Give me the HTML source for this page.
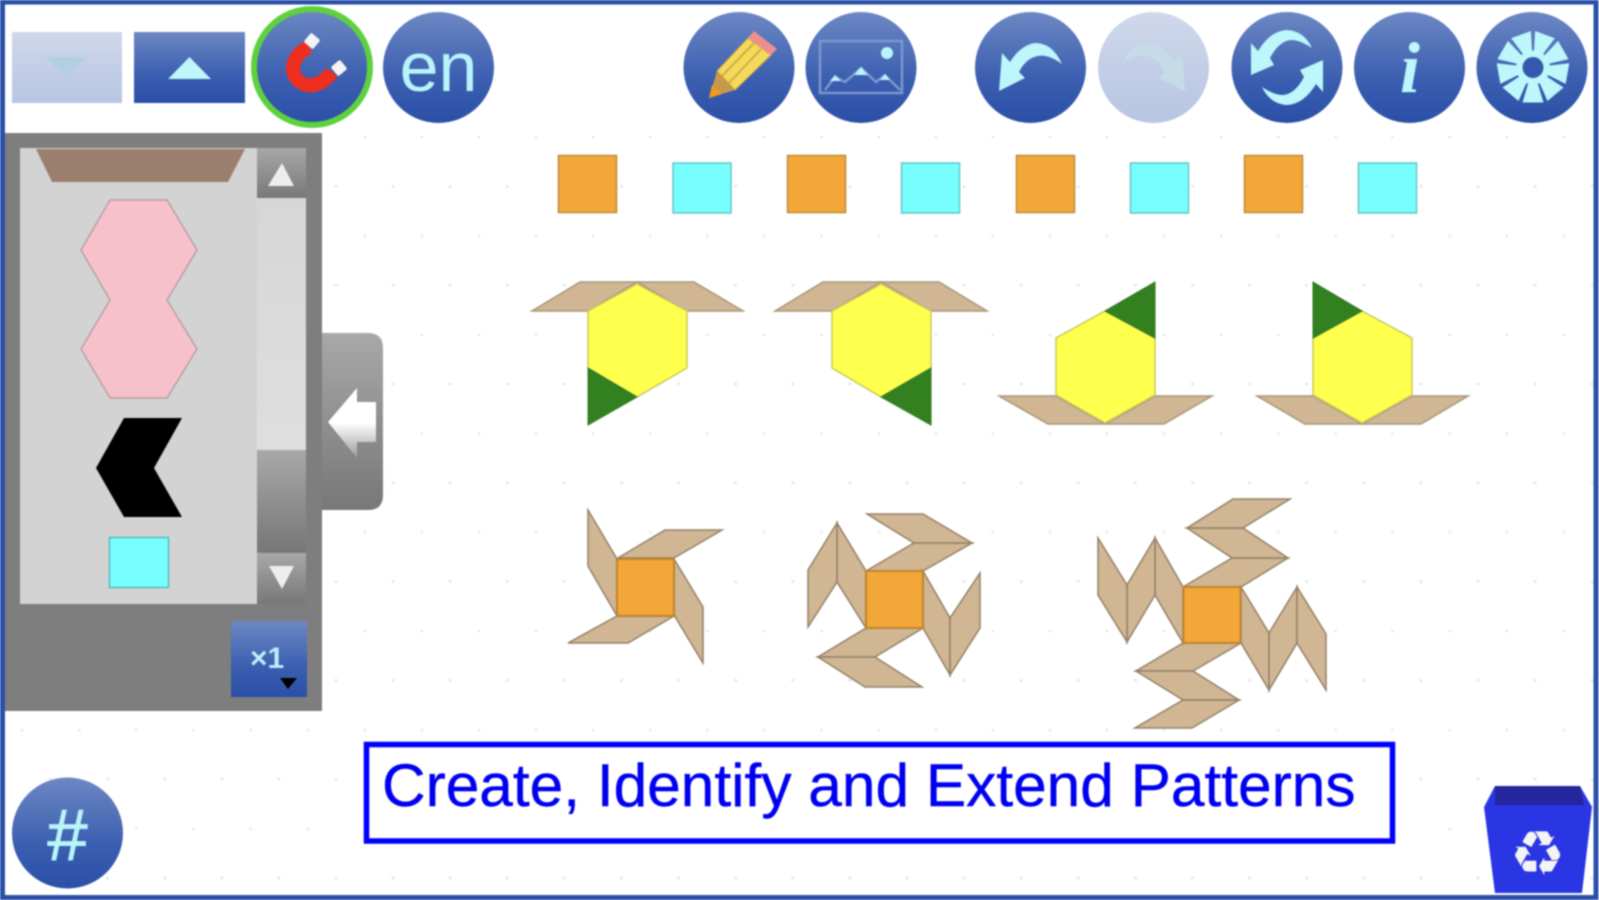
<!DOCTYPE html>
<html><head><meta charset="utf-8"><title>Create, Identify and Extend Patterns</title>
<style>html,body{margin:0;padding:0;background:#fff;width:1599px;height:900px;overflow:hidden}svg{display:block;filter:blur(.8px)}</style></head>
<body>
<svg xmlns="http://www.w3.org/2000/svg" width="1599" height="900" viewBox="0 0 1599 900">
<defs>
<linearGradient id="b" x1="0" y1="0" x2="0" y2="1"><stop offset="0" stop-color="#6c87c3"/><stop offset=".6" stop-color="#3b5eb0"/><stop offset="1" stop-color="#2a4fa6"/></linearGradient>
<linearGradient id="d" x1="0" y1="0" x2="0" y2="1"><stop offset="0" stop-color="#cfd8eb"/><stop offset="1" stop-color="#b6c5e2"/></linearGradient>
<linearGradient id="g" x1="0" y1="0" x2="0" y2="1"><stop offset="0" stop-color="#a8a8a8"/><stop offset="1" stop-color="#777"/></linearGradient>
<linearGradient id="t" x1="0" y1="0" x2="0" y2="1"><stop offset="0" stop-color="#d6d6d6"/><stop offset="1" stop-color="#dedede"/></linearGradient>
<linearGradient id="w" x1="0" y1="0" x2="0" y2="1"><stop offset="0" stop-color="#fff"/><stop offset=".5" stop-color="#fff"/><stop offset="1" stop-color="#999"/></linearGradient>
<pattern id="dots" patternUnits="userSpaceOnUse" x="21" y="136" width="57.1" height="98.8">
<circle cx="1" cy="1" r="1.5" fill="#e6e6e6"/><circle cx="29.5" cy="50.4" r="1.5" fill="#e6e6e6"/></pattern>
</defs>
<rect width="1599" height="900" fill="#fff"/>
<rect x="5" y="130" width="1588" height="765" fill="url(#dots)"/>
<!-- frame -->
<rect x="2.5" y="2" width="1593.5" height="895.5" fill="none" stroke="#2a50a8" stroke-width="5"/>

<!-- top left buttons -->
<rect x="12" y="32" width="110" height="71" fill="url(#d)"/><polygon points="45,57 87,57 67,78" fill="#b4cfe2"/>
<rect x="134" y="32" width="111" height="71" fill="url(#b)"/><polygon points="168,79 211,79 189.5,57" fill="#bdf6fb"/>
<circle cx="312" cy="67" r="58" fill="url(#b)" stroke="#5ed13f" stroke-width="6"/>
<path d="M309,47 C293,55 289,70 297,79 C306,90 322,86 332,72" fill="none" stroke="#ee2e1e" stroke-width="14"/>
<rect x="306" y="35" width="12" height="12" rx="2" fill="#f4f4f4" transform="rotate(40 312 41)"/>
<rect x="333" y="62" width="12" height="12" rx="2" fill="#f4f4f4" transform="rotate(50 339 68)"/>
<circle cx="438.5" cy="67.5" r="55.5" fill="url(#b)"/>
<text x="438.5" y="91" text-anchor="middle" font-family="Liberation Sans, sans-serif" font-size="70" fill="#b8f5fb">en</text>

<!-- pencil -->
<circle cx="739" cy="67.5" r="55.5" fill="url(#b)"/>
<polygon points="748,38 771,55 735,90 717,71" fill="#f5d95a" stroke="#c9a83e" stroke-width="1"/>
<line x1="754" y1="43" x2="722" y2="76" stroke="#cfae45" stroke-width="2"/><line x1="761" y1="49" x2="729" y2="83" stroke="#cfae45" stroke-width="2"/>
<polygon points="754,31 777,49 771,55 748,38" fill="#ee8f8f"/>
<polygon points="717,71 735,90 709,98" fill="#c49a4a"/>
<polygon points="712,85 722,94 709,98" fill="#f39a1c"/>

<!-- image -->
<circle cx="861" cy="67.5" r="55.5" fill="url(#b)"/>
<rect x="820" y="41" width="82" height="52" fill="none" stroke="#7d96cf" stroke-width="2.5"/>
<circle cx="887" cy="53" r="6" fill="#b8f5fb"/>
<polyline points="825,90 835,77 845,82 861,68 876,82 885,75 900,90" fill="none" stroke="#7d96cf" stroke-width="2.5"/>
<polygon points="830,81 835,75 841,81" fill="#b8f5fb"/><polygon points="854,75 861,67 868,75" fill="#b8f5fb"/><polygon points="880,80 885,74 890,80" fill="#b8f5fb"/>

<!-- undo -->
<circle cx="1030.5" cy="67.5" r="55.5" fill="url(#b)"/>
<path d="M1002,53 L1010,62 Q1020,46 1034,43 Q1052,42 1062,64 Q1048,54 1038,56 Q1026,58 1019,72 L1025,78 L999,91 Z" fill="#bdf6fb"/>
<!-- redo -->
<circle cx="1153.5" cy="67.5" r="55.5" fill="url(#d)"/>
<path transform="matrix(-1 0 0 1 2184 0)" d="M1002,53 L1010,62 Q1020,46 1034,43 Q1052,42 1062,64 Q1048,54 1038,56 Q1026,58 1019,72 L1025,78 L999,91 Z" fill="#c6dbe8"/>
<!-- refresh -->
<circle cx="1287" cy="67.5" r="55.5" fill="url(#b)"/>
<path d="M1251,43 L1258,51 Q1270,31 1287,30 Q1304,31 1312,48 Q1300,40 1291,40 Q1279,41 1270,58 L1274,65 L1251,75 Z" fill="#bdf6fb"/>
<path transform="rotate(180 1287 67.5)" d="M1251,43 L1258,51 Q1270,31 1287,30 Q1304,31 1312,48 Q1300,40 1291,40 Q1279,41 1270,58 L1274,65 L1251,75 Z" fill="#bdf6fb"/>
<!-- info -->
<circle cx="1409.5" cy="67.5" r="55.5" fill="url(#b)"/>
<text x="1410" y="92" text-anchor="middle" font-family="Liberation Serif, serif" font-style="italic" font-weight="bold" font-size="72" fill="#bdf6fb">i</text>
<!-- gear -->
<circle cx="1532" cy="67.5" r="55.5" fill="url(#b)"/>
<g fill="#bdf6fb" transform="translate(1533 67.5)">
<polygon points="-4.5,-15 4.5,-15 10.5,-35 -10.5,-35" transform="rotate(20)"/>
<polygon points="-4.5,-15 4.5,-15 10.5,-35 -10.5,-35" transform="rotate(60)"/>
<polygon points="-4.5,-15 4.5,-15 10.5,-35 -10.5,-35" transform="rotate(100)"/>
<polygon points="-4.5,-15 4.5,-15 10.5,-35 -10.5,-35" transform="rotate(140)"/>
<polygon points="-4.5,-15 4.5,-15 10.5,-35 -10.5,-35" transform="rotate(180)"/>
<polygon points="-4.5,-15 4.5,-15 10.5,-35 -10.5,-35" transform="rotate(220)"/>
<polygon points="-4.5,-15 4.5,-15 10.5,-35 -10.5,-35" transform="rotate(260)"/>
<polygon points="-4.5,-15 4.5,-15 10.5,-35 -10.5,-35" transform="rotate(300)"/>
<polygon points="-4.5,-15 4.5,-15 10.5,-35 -10.5,-35" transform="rotate(340)"/>
<circle r="17"/><circle r="10.5" fill="#3558ad"/>
</g>

<!-- panel -->
<rect x="5" y="133" width="317" height="578" fill="#7e7e7e"/>
<rect x="20" y="148" width="237" height="456" fill="#d3d3d3"/>
<polygon points="36,149 245,149 228,182 52,182" fill="#9b7f6e"/>
<rect x="257" y="148" width="49" height="50" fill="url(#g)"/>
<polygon points="282,163 268,186 294,186" fill="#eee"/>
<rect x="257" y="198" width="49" height="252" fill="url(#t)"/>
<rect x="257" y="450" width="49" height="102" fill="url(#g)"/>
<rect x="257" y="553" width="49" height="51" fill="url(#g)"/>
<polygon points="269,566 294,566 282,589" fill="#eee"/>
<polygon points="110,200 167,200 197,250 167,300 197,349 167,398 110,398 81,349 110,300 81,250" fill="#f7c1cb" stroke="#b5a0a5" stroke-width="1.5"/>
<polygon points="124,418 182,418 154,468 182,517 124,517 96,468" fill="#000"/>
<rect x="109.5" y="537.5" width="59" height="50" fill="#77ffff" stroke="#5cbaba" stroke-width="1.5"/>
<rect x="231" y="621" width="76" height="76" fill="url(#b)"/>
<text x="250" y="668" font-family="Liberation Sans, sans-serif" font-size="30" font-weight="bold" fill="#b8eef8">×1</text>
<polygon points="280,678 297,678 288,689" fill="#000"/>
<!-- tab -->
<path d="M322,333 H368 Q383,333 383,348 V495 Q383,510 368,510 H322 Z" fill="url(#g)"/>
<polygon points="328,422 357,388 357,402 376,402 376,442 357,442 357,458" fill="url(#w)"/>

<!-- squares -->
<g stroke="#bd8a3a" stroke-width="1.5" fill="#f3a738">
<rect x="558.5" y="155.5" width="58" height="57"/><rect x="787.5" y="155.5" width="58" height="57"/><rect x="1016.5" y="155.5" width="58" height="57"/><rect x="1244.5" y="155.5" width="58" height="57"/>
</g>
<g stroke="#66c4c4" stroke-width="1.5" fill="#77ffff">
<rect x="673" y="163" width="58" height="50"/><rect x="901.5" y="163" width="58" height="50"/><rect x="1130.5" y="163" width="58" height="50"/><rect x="1358.5" y="163" width="58" height="50"/>
</g>

<!-- hex patterns -->
<g stroke="#a8957a" stroke-width="1.5" fill="#d0b693">
<polygon points="532,311 580,282 637,282 588,311"/><polygon points="637,282 694,282 743,311 686,311"/>
<polygon points="775,311 823,282 881,282 832,311"/><polygon points="881,282 939,282 987,311 931,311"/>
<polygon points="999,396 1048,424 1105,424 1056,396"/><polygon points="1105,424 1164,424 1212,396 1155,396"/>
<polygon points="1257,396 1305,424 1362,424 1313,396"/><polygon points="1362,424 1421,424 1468,396 1412,396"/>
</g>
<g stroke="#c8c860" stroke-width="1.5" fill="#ffff4d">
<polygon points="637,284 687,311 687,368 637,397 588,368 588,311"/>
<polygon points="881,284 931,311 931,368 881,397 832,368 832,311"/>
<polygon points="1105,311 1155,338 1155,395 1105,423 1056,395 1056,338"/>
<polygon points="1362,311 1412,338 1412,395 1362,423 1313,395 1313,338"/>
</g>
<g stroke="#2f7a1e" stroke-width="1" fill="#338020">
<polygon points="588,368 637,397 588,425"/><polygon points="931,368 881,397 931,425"/>
<polygon points="1155,282 1105,311 1155,338"/><polygon points="1313,282 1362,311 1313,338"/>
</g>

<!-- pinwheels -->
<g stroke="#948168" stroke-width="1.5" fill="#d0b693">
<polygon points="618,558 665,530 722,530 674,558"/><polygon points="588,510 617,559 617,616 588,566"/>
<polygon points="674,559 703,607 703,663 674,615"/><polygon points="617,616 674,616 628,643 568,643"/>

<polygon points="866,571 914,543 972,543 923,571"/><polygon points="914,543 972,543 923,514 867,514"/>
<polygon points="923,571 923,628 950,675 950,618"/><polygon points="950,618 950,675 980,628 980,573"/>
<polygon points="866,628 923,628 875,657 818,657"/><polygon points="818,657 875,657 922,687 865,687"/>
<polygon points="866,571 866,628 837,582 837,523"/><polygon points="837,523 837,582 808,627 808,570"/>

<polygon points="1183,587 1232,558 1288,558 1241,587"/><polygon points="1232,558 1288,558 1243,528 1187,528"/><polygon points="1187,528 1243,528 1290,499 1233,499"/>
<polygon points="1241,587 1241,643 1269,690 1269,633"/><polygon points="1269,633 1269,690 1297,643 1297,587"/><polygon points="1297,587 1297,643 1326,690 1326,634"/>
<polygon points="1183,643 1241,643 1193,671 1136,671"/><polygon points="1136,671 1193,671 1239,700 1183,700"/><polygon points="1183,700 1239,700 1192,728 1135,728"/>
<polygon points="1183,587 1183,643 1155,595 1155,538"/><polygon points="1155,538 1155,595 1127,642 1127,585"/><polygon points="1127,585 1127,642 1098,595 1098,538"/>
</g>
<g stroke="#bd8430" stroke-width="2" fill="#f3a738">
<rect x="617" y="559" width="57" height="57"/><rect x="866" y="571" width="57" height="57"/><rect x="1183.5" y="587" width="57" height="56"/>
</g>

<!-- title -->
<rect x="366.5" y="744.5" width="1026" height="96.5" fill="#fff" stroke="#0000ff" stroke-width="5.5"/>
<text x="382" y="806" font-family="Liberation Sans, sans-serif" font-size="60.4" fill="#0000f0" stroke="#0000f0" stroke-width=".4">Create, Identify and Extend Patterns</text>

<!-- hash -->
<circle cx="67.5" cy="833" r="55.5" fill="url(#b)"/>
<text x="67.5" y="860" text-anchor="middle" font-family="Liberation Sans, sans-serif" font-size="72" fill="#b8f5fb" stroke="#b8f5fb" stroke-width="1">#</text>

<!-- trash -->
<polygon points="1495,786 1580,786 1592,807 1582,893 1495,893 1484,807" fill="#2a35e4"/>
<polygon points="1495,786 1580,786 1584,805 1495,805" fill="#25259c"/>
<text x="1537.5" y="875" text-anchor="middle" font-family="DejaVu Sans, sans-serif" font-size="62" fill="#f4f4f4">♻</text>
</svg>
</body></html>
